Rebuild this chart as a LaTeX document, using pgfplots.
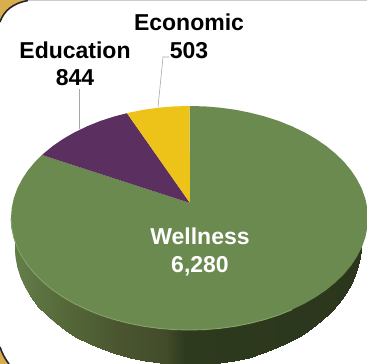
\documentclass[border=0pt]{standalone}
\usepackage{fontspec}
\setmainfont{Liberation Sans}
\usepackage{pgfplots}
\pgfplotsset{compat=1.18}
\definecolor{pgreen}{HTML}{6B8A4F}
\definecolor{ppurple}{HTML}{5B3060}
\definecolor{pyellow}{HTML}{EDC31A}
\definecolor{rim}{HTML}{86A268}
\definecolor{pgold}{HTML}{D9AE4E}
\definecolor{pleader}{HTML}{A6A6A6}
\definecolor{wallbase}{RGB}{66,78,44}
\tikzset{lab/.style={align=center, anchor=center, inner sep=0pt, font=\fontsize{23}{27.5}\selectfont\bfseries}}
\begin{document}
\begin{tikzpicture}
\begin{axis}[
  scale only axis, width=367pt, height=364pt,
  xmin=0, xmax=367, ymin=0, ymax=364, y dir=reverse,
  hide axis, clip=true,
  point meta min=0, point meta max=367,
  colormap={wall}{
    rgb255(0pt)=(98,124,72) rgb255(20pt)=(98,124,72)
    rgb255(60pt)=(86,106,58) rgb255(120pt)=(74,85,48)
    rgb255(165pt)=(66,76,42) rgb255(185pt)=(46,58,30)
    rgb255(367pt)=(43,54,28)},
]
% panel frame
\fill[pgold] (axis cs:0,0) -- (axis cs:28,0) .. controls (axis cs:14,3) and (axis cs:4,10) .. (axis cs:0,22) -- cycle;
\draw[black!85,line width=1.6pt] (axis cs:28,0.5) .. controls (axis cs:14,3) and (axis cs:4,10) .. (axis cs:0,22);
\fill[pgold] (axis cs:0,364) -- (axis cs:0,347) .. controls (axis cs:2,353) and (axis cs:5,359) .. (axis cs:9,364) -- cycle;
\draw[black!85,line width=1.6pt] (axis cs:0,347) .. controls (axis cs:2,353) and (axis cs:5,359) .. (axis cs:9,364);
\draw[black!20,line width=1.5pt] (axis cs:28,0.5) -- (axis cs:367,0.5);
% side wall underlay
\addplot[fill=wallbase, draw=none] coordinates {
(15,230) (15,248) (15.7,258.2) (17.7,268.3) (21,278.3) (25.6,288) (31.4,297.4) (38.4,306.5)
(46.6,315.1) (55.9,323.2) (66.3,330.7) (77.5,337.6) (89.6,343.8) (102.5,349.3) (116,354)
(130.1,357.9) (144.7,361) (159.6,363.2) (174.7,364.6) (190,365) (205,364.5) (219.9,363.1)
(234.5,360.7) (248.8,357.5) (262.7,353.3) (276,348.3) (288.7,342.4) (300.6,335.8) (311.6,328.4)
(321.8,320.4) (330.9,311.7) (339,302.5) (345.9,292.8) (351.6,282.8) (356.1,272.4) (359.4,261.7)
(361.3,250.9) (362,240) (362,230)
} --cycle;
% side wall
\addplot[patch, patch type=rectangle, shader=interp, point meta=explicit] table[meta=c] {
x y c
15 248 15
15.7 258.2 15.7
15.7 230 15.7
15 230 15
15.7 258.2 15.7
17.7 268.3 17.7
17.7 230 17.7
15.7 230 15.7
17.7 268.3 17.7
21 278.3 21
21 230 21
17.7 230 17.7
21 278.3 21
25.6 288 25.6
25.6 230 25.6
21 230 21
25.6 288 25.6
31.4 297.4 31.4
31.4 230 31.4
25.6 230 25.6
31.4 297.4 31.4
38.4 306.5 38.4
38.4 230 38.4
31.4 230 31.4
38.4 306.5 38.4
46.6 315.1 46.6
46.6 230 46.6
38.4 230 38.4
46.6 315.1 46.6
55.9 323.2 55.9
55.9 230 55.9
46.6 230 46.6
55.9 323.2 55.9
66.3 330.7 66.3
66.3 230 66.3
55.9 230 55.9
66.3 330.7 66.3
77.5 337.6 77.5
77.5 230 77.5
66.3 230 66.3
77.5 337.6 77.5
89.6 343.8 89.6
89.6 230 89.6
77.5 230 77.5
89.6 343.8 89.6
102.5 349.3 102.5
102.5 230 102.5
89.6 230 89.6
102.5 349.3 102.5
116 354 116
116 230 116
102.5 230 102.5
116 354 116
130.1 357.9 130.1
130.1 230 130.1
116 230 116
130.1 357.9 130.1
144.7 361 144.7
144.7 230 144.7
130.1 230 130.1
144.7 361 144.7
159.6 363.2 159.6
159.6 230 159.6
144.7 230 144.7
159.6 363.2 159.6
174.7 364.6 174.7
174.7 230 174.7
159.6 230 159.6
174.7 364.6 174.7
190 365 190
190 230 190
174.7 230 174.7
190 365 190
205 364.5 205
205 230 205
190 230 190
205 364.5 205
219.9 363.1 219.9
219.9 230 219.9
205 230 205
219.9 363.1 219.9
234.5 360.7 234.5
234.5 230 234.5
219.9 230 219.9
234.5 360.7 234.5
248.8 357.5 248.8
248.8 230 248.8
234.5 230 234.5
248.8 357.5 248.8
262.7 353.3 262.7
262.7 230 262.7
248.8 230 248.8
262.7 353.3 262.7
276 348.3 276
276 230 276
262.7 230 262.7
276 348.3 276
288.7 342.4 288.7
288.7 230 288.7
276 230 276
288.7 342.4 288.7
300.6 335.8 300.6
300.6 230 300.6
288.7 230 288.7
300.6 335.8 300.6
311.6 328.4 311.6
311.6 230 311.6
300.6 230 300.6
311.6 328.4 311.6
321.8 320.4 321.8
321.8 230 321.8
311.6 230 311.6
321.8 320.4 321.8
330.9 311.7 330.9
330.9 230 330.9
321.8 230 321.8
330.9 311.7 330.9
339 302.5 339
339 230 339
330.9 230 330.9
339 302.5 339
345.9 292.8 345.9
345.9 230 345.9
339 230 339
345.9 292.8 345.9
351.6 282.8 351.6
351.6 230 351.6
345.9 230 345.9
351.6 282.8 351.6
356.1 272.4 356.1
356.1 230 356.1
351.6 230 351.6
356.1 272.4 356.1
359.4 261.7 359.4
359.4 230 359.4
356.1 230 356.1
359.4 261.7 359.4
361.3 250.9 361.3
361.3 230 361.3
359.4 230 359.4
361.3 250.9 361.3
362 240 362
362 230 362
361.3 230 361.3
};
% top face: Wellness 6,280
\addplot[fill=pgreen, draw=none] coordinates {
(190,203) (189.5,106) (205.1,106.4) (220.5,107.7) (235.7,109.8) (250.5,112.8) (264.9,116.5)
(278.8,121) (291.9,126.3) (304.2,132.2) (315.7,138.8) (326.2,146) (335.7,153.8) (344.1,162)
(351.3,170.7) (357.2,179.7) (361.9,189) (365.3,198.6) (367.3,208.2) (368,218)
(367.3,227.8) (365.3,237.4) (361.9,247) (357.2,256.3) (351.3,265.3) (344.1,274) (335.7,282.2)
(326.2,290) (315.7,297.2) (304.2,303.8) (291.9,309.7) (278.8,315) (264.9,319.5) (250.5,323.2)
(235.7,326.2) (220.5,328.3) (205.1,329.6) (189.5,330) (173.9,329.6) (158.5,328.3) (143.3,326.2)
(128.5,323.2) (114.1,319.5) (100.2,315) (87.1,309.7) (74.8,303.8) (63.3,297.2) (52.8,290)
(43.3,282.2) (34.9,274) (27.7,265.3) (21.8,256.3) (17.1,247) (13.7,237.4) (11.7,227.8) (11,218)
(11.7,208.2) (13.7,198.6) (17.1,189) (21.8,179.7) (27.7,170.7) (34.9,162) (42,155)
} --cycle;
% rim
\addplot[rim, line width=0.9pt, no marks] coordinates {
(11,218) (11.7,227.8) (13.7,237.4) (17.1,247) (21.8,256.3) (27.7,265.3) (34.9,274) (43.3,282.2)
(52.8,290) (63.3,297.2) (74.8,303.8) (87.1,309.7) (100.2,315) (114.1,319.5) (128.5,323.2)
(143.3,326.2) (158.5,328.3) (173.9,329.6) (189.5,330) (205.1,329.6) (220.5,328.3) (235.7,326.2)
(250.5,323.2) (264.9,319.5) (278.8,315) (291.9,309.7)
};
% Education 844
\addplot[fill=ppurple, draw=none] coordinates {
(190,203) (42,155) (43.3,153.8) (52.8,146) (63.3,138.8) (74.8,132.2) (87.1,126.3) (100.2,121)
(114.1,116.5) (127,113.2)
} --cycle;
% Economic 503
\addplot[fill=pyellow, draw=none] coordinates {
(190,203) (127,113.2) (128.5,112.8) (143.3,109.8) (158.5,107.7) (173.9,106.4) (189.5,106)
} --cycle;
% leaders
\addplot[pleader, line width=0.6pt, no marks] coordinates {(79,129) (79,89)};
\addplot[pleader, line width=0.6pt, no marks] coordinates {(158,107) (163,57) (169,57)};
% labels
\node[lab] at (axis cs:189,36.5) {Economic\\503};
\node[lab] at (axis cs:75,64) {Education\\844};
\node[lab, white] at (axis cs:200,252) {Wellness\\6,280};
\end{axis}
\end{tikzpicture}
\end{document}
